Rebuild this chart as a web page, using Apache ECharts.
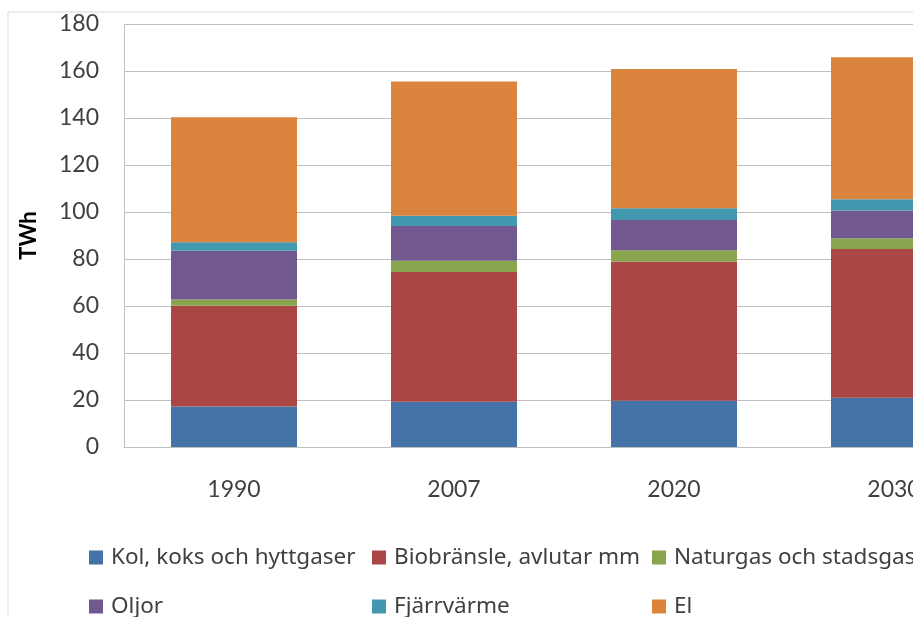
<!DOCTYPE html>
<html lang="sv">
<head>
    <meta charset="UTF-8">
    <title>TWh</title>
    <script src="https://cdn.jsdelivr.net/npm/echarts@6/dist/echarts.min.js"></script>
    <style>
        html, body { margin: 0; padding: 0; background: #fff; overflow: hidden; }
        #main { width: 913px; height: 617px; }
    </style>
</head>
<body>
<div id="main"></div>
<script type="text/javascript">
    // kategorier och värden (TWh)
    var years = ['1990', '2007', '2020', '2030'];
    var names = ['Kol, koks och hyttgaser', 'Biobränsle, avlutar mm', 'Naturgas och stadsgas', 'Oljor', 'Fjärrvärme', 'El'];
    var kol = [17.2, 19.3, 19.7, 21.0];
    var bio = [42.9, 55.2, 59.2, 63.3];
    var naturgas = [2.7, 4.8, 4.8, 4.5];
    var oljor = [20.7, 14.7, 12.9, 11.8];
    var fjarr = [3.6, 4.4, 5.0, 4.8];
    var el = [53.2, 57.1, 59.3, 60.4];
    var yTicks = [0, 20, 40, 60, 80, 100, 120, 140, 160, 180];

    var colors = ['#4572A7', '#AA4643', '#89A54E', '#71588F', '#4198AF', '#DB843D'];
    var values = [kol, bio, naturgas, oljor, fjarr, el];
    var txt = '#404040';
    var font = 'Lato';

    let myChart = echarts.init(document.getElementById('main'));

    // legend i två rader, tre kolumner
    let legendPos = [[89, 546], [372, 546], [652, 546], [89, 595], [372, 595], [652, 595]];
    let legends = names.map((n, i) => {
        return {
            data: [n],
            left: legendPos[i][0],
            top: legendPos[i][1],
            icon: 'rect',
            itemWidth: 14,
            itemHeight: 14,
            padding: 0,
            textStyle: {color: txt, fontSize: 22.5, fontFamily: 'Noto Sans', padding: [0, 0, 0, 3]}
        }
    });

    let series = names.map((n, i) => {
        return {
            name: n,
            type: 'bar',
            stack: 'total',
            barWidth: 126,
            data: values[i],
            itemStyle: {color: colors[i]}
        }
    });

    let option = {
        animation: false,
        color: colors,
        graphic: [{
            type: 'rect',
            shape: {x: 8, y: 12, width: 1200, height: 1000},
            style: {fill: 'none', stroke: '#d9d9d9', lineWidth: 1},
            silent: true,
            z: -10
        }],
        legend: legends,
        // rutnätet går utanför bilden till höger (2030 är avskuren)
        grid: {left: 124, top: 24, width: 880, height: 423, outerBoundsMode: 'none', containLabel: false},
        xAxis: {
            type: 'category',
            data: years,
            axisLine: {lineStyle: {color: '#bfbfbf', width: 1}},
            axisTick: {show: false},
            axisLabel: {color: txt, fontSize: 23, fontFamily: font, margin: 31}
        },
        yAxis: {
            type: 'value',
            min: yTicks[0],
            max: yTicks[yTicks.length - 1],
            interval: 20,
            name: 'TWh',
            nameLocation: 'middle',
            nameRotate: 90,
            nameGap: 84,
            nameTextStyle: {color: '#000', fontSize: 22, fontWeight: 'bold', fontFamily: font},
            axisLine: {show: true, lineStyle: {color: '#bfbfbf', width: 1}},
            axisTick: {show: false},
            splitLine: {lineStyle: {color: '#bfbfbf', width: 1}},
            axisLabel: {color: txt, fontSize: 23, fontFamily: font, margin: 25}
        },
        series: series
    };
    myChart.setOption(option);
</script>
</body>
</html>
